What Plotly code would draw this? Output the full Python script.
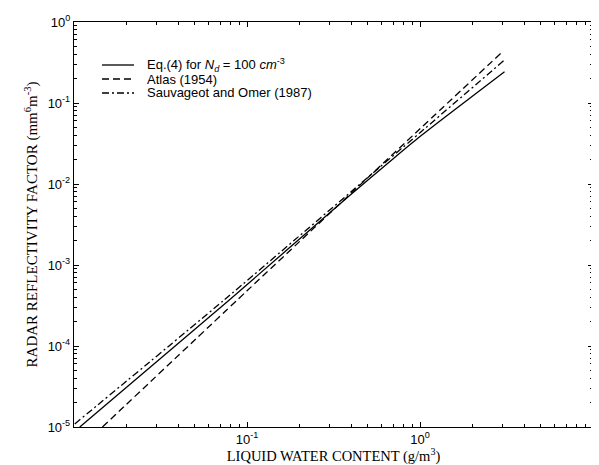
import plotly.graph_objects as go

# Eq.(4) for Nd = 100 cm^-3 (solid)
eq4_lwc = [0.0108, 0.0778, 0.386, 0.7, 1.0, 1.65, 3.08]
eq4_z = [1.0e-5, 3.6e-4, 7.0e-3, 0.0205, 0.0385, 0.088, 0.243]

# Atlas (1954) (dashed)
atlas_lwc = [0.0146, 0.1, 1.0, 3.0]
atlas_z = [1.0e-5, 4.8e-4, 0.048, 0.43]

# Sauvageot and Omer (1987) (dash-dot)
so_lwc = [0.0101, 0.0738, 1.0, 3.08]
so_z = [1.09e-5, 3.7e-4, 0.043, 0.34]

series_names = ["Eq.(4) for <i>N<sub>d</sub></i> = 100 <i>cm</i><sup>-3</sup>",
                "Atlas (1954)",
                "Sauvageot and Omer (1987)"]
series_dash = ["solid", "7px,4px", "7px,3px,2px,3px"]

x_tickvals = [0.01, 0.1, 1, 10]
x_ticktext = ["", "10<sup>-1</sup>", "10<sup>0</sup>", "10<sup>1</sup>"]
y_tickvals = [1e-5, 1e-4, 1e-3, 1e-2, 1e-1, 1]
y_ticktext = ["10<sup>-5</sup>", "10<sup>-4</sup>", "10<sup>-3</sup>", "10<sup>-2</sup>",
              "10<sup>-1</sup>", "10<sup>0</sup>"]

fig = go.Figure()
for xs, ys, name, dash in zip([eq4_lwc, atlas_lwc, so_lwc], [eq4_z, atlas_z, so_z],
                              series_names, series_dash):
    fig.add_trace(go.Scatter(x=xs, y=ys, mode="lines", name=name, showlegend=False,
                             line=dict(color="black", width=1.3, dash=dash,
                                       shape="spline", smoothing=0.5)))

# legend drawn inside the plot, compact like the original
PL, PR, PT, PB = 74, 593, 22, 427  # page pixels of the plot area
def px_x(p):
    return (p - PL) / (PR - PL)
def px_y(p):
    return (PB - p) / (PB - PT)

legend_rows = [65, 79, 93]
for row, name, dash in zip(legend_rows, series_names, series_dash):
    fig.add_shape(type="line", xref="paper", yref="paper",
                  x0=px_x(102), x1=px_x(134), y0=px_y(row), y1=px_y(row),
                  line=dict(color="black", width=1.3, dash=dash))
    fig.add_annotation(xref="paper", yref="paper", x=px_x(145), y=px_y(row),
                       xanchor="left", yanchor="middle", showarrow=False, text=name,
                       font=dict(family="Liberation Sans, Arial", size=13, color="black"))

axis_common = dict(
    type="log", showgrid=False, zeroline=False, showline=True, linecolor="black",
    linewidth=1.4, mirror="allticks", ticks="inside", ticklen=5, tickcolor="black",
    minor=dict(ticks="inside", ticklen=3, tickcolor="black", dtick="D1", showgrid=False),
    tickfont=dict(family="Liberation Sans, Arial", size=13, color="black"),
)

fig.update_xaxes(**axis_common, range=[-2, 1], tickvals=x_tickvals, ticktext=x_ticktext,
                 title=dict(text="LIQUID WATER CONTENT (g/m<sup>3</sup>)",
                            font=dict(family="Liberation Serif, Times New Roman", size=14.5, color="black"),
                            standoff=2))
fig.update_yaxes(**axis_common, range=[-5, 0], tickvals=y_tickvals, ticktext=y_ticktext,
                 title=dict(text="RADAR REFLECTIVITY FACTOR (mm<sup>6</sup>m<sup>-3</sup>)",
                            font=dict(family="Liberation Serif, Times New Roman", size=15, color="black"),
                            standoff=6))

fig.update_layout(
    width=591, height=457,
    margin=dict(l=66, r=6, t=14, b=38),
    paper_bgcolor="white", plot_bgcolor="white",
    showlegend=False,
)

fig.write_html("out.html")
